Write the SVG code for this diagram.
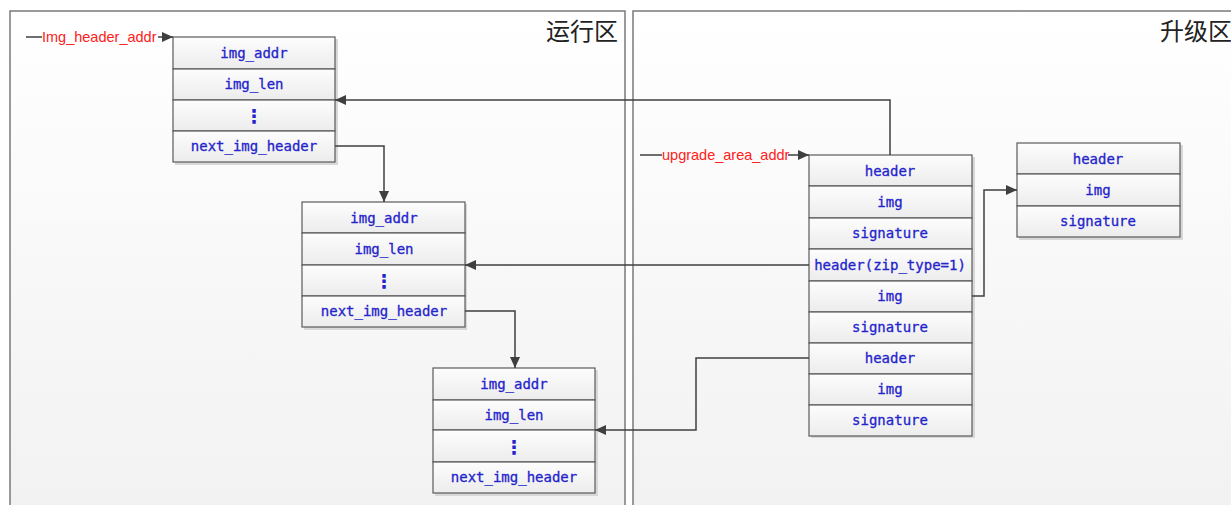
<svg xmlns="http://www.w3.org/2000/svg" width="1231" height="505" viewBox="0 0 1231 505">
<defs>
<linearGradient id="panelBg" x1="0" y1="0" x2="0" y2="1">
<stop offset="0" stop-color="#ffffff"/>
<stop offset="1" stop-color="#f1f1f1"/>
</linearGradient>
<linearGradient id="cellBg" x1="0" y1="0" x2="0" y2="1">
<stop offset="0" stop-color="#fdfdfd"/>
<stop offset="1" stop-color="#ececec"/>
</linearGradient>
<marker id="arr" markerUnits="userSpaceOnUse" markerWidth="12" markerHeight="10" refX="11" refY="5" orient="auto">
<path d="M0,0 L11,5 L0,10 Z" fill="#3f3f3f"/>
</marker>
</defs>
<style>
.panel{fill:url(#panelBg);stroke:#7a7a7a;stroke-width:1.5}
.zone{font-family:"Noto Sans CJK SC","Noto Sans",sans-serif;font-size:24px;fill:#222}
.shadow{fill:#d8d8d8}
.cell{fill:url(#cellBg);stroke:#5a5a5a;stroke-width:1.2}
.t{font-family:"DejaVu Sans Mono","Liberation Mono",monospace;font-size:14px;fill:#2424cc;stroke:#2424cc;stroke-width:0.3;text-anchor:middle}
.dots{font-family:"DejaVu Sans","Noto Sans",sans-serif;font-size:19px;font-weight:bold;fill:#2424cc;text-anchor:middle}
.red{font-family:"Liberation Sans",Arial,sans-serif;font-size:14.5px;fill:#ff2020}
.conn{fill:none;stroke:#3f3f3f;stroke-width:1.5}
</style>

<rect class="panel" x="10" y="11" width="615" height="520"/>
<rect class="panel" x="633" y="11" width="620" height="520"/>
<text class="zone" x="546" y="40">运行区</text>
<text class="zone" x="1160" y="40">升级区</text>

<g id="node-run1">
<rect class="shadow" x="175" y="39" width="163" height="126"/>
<rect class="cell" x="173" y="37" width="162" height="32"/>
<rect class="cell" x="173" y="69" width="162" height="31"/>
<rect class="cell" x="173" y="100" width="162" height="31"/>
<rect class="cell" x="173" y="131" width="162" height="31"/>
<text class="t" x="254" y="58">img_addr</text>
<text class="t" x="254" y="89">img_len</text>
<text class="dots" x="254" y="123">⋮</text>
<text class="t" x="254" y="151">next_img_header</text>
</g>

<g id="node-run2">
<rect class="shadow" x="304" y="204" width="163" height="126"/>
<rect class="cell" x="302" y="202" width="163" height="31"/>
<rect class="cell" x="302" y="233" width="163" height="32"/>
<rect class="cell" x="302" y="265" width="163" height="31"/>
<rect class="cell" x="302" y="296" width="163" height="31"/>
<text class="t" x="384" y="223">img_addr</text>
<text class="t" x="384" y="254">img_len</text>
<text class="dots" x="384" y="288">⋮</text>
<text class="t" x="384" y="316">next_img_header</text>
</g>

<g id="node-run3">
<rect class="shadow" x="435" y="370" width="163" height="126"/>
<rect class="cell" x="433" y="368" width="162" height="32"/>
<rect class="cell" x="433" y="400" width="162" height="30"/>
<rect class="cell" x="433" y="430" width="162" height="32"/>
<rect class="cell" x="433" y="462" width="162" height="31"/>
<text class="t" x="514" y="389">img_addr</text>
<text class="t" x="514" y="420">img_len</text>
<text class="dots" x="514" y="454">⋮</text>
<text class="t" x="514" y="482">next_img_header</text>
</g>

<g id="node-upgrade">
<rect class="shadow" x="811" y="157" width="164" height="281"/>
<rect class="cell" x="809" y="155" width="163" height="31"/>
<rect class="cell" x="809" y="186" width="163" height="32"/>
<rect class="cell" x="809" y="218" width="163" height="31"/>
<rect class="cell" x="809" y="249" width="163" height="32"/>
<rect class="cell" x="809" y="281" width="163" height="31"/>
<rect class="cell" x="809" y="312" width="163" height="31"/>
<rect class="cell" x="809" y="343" width="163" height="31"/>
<rect class="cell" x="809" y="374" width="163" height="31"/>
<rect class="cell" x="809" y="405" width="163" height="31"/>
<text class="t" x="890" y="176">header</text>
<text class="t" x="890" y="207">img</text>
<text class="t" x="890" y="238">signature</text>
<text class="t" x="890" y="270">header(zip_type=1)</text>
<text class="t" x="890" y="301">img</text>
<text class="t" x="890" y="332">signature</text>
<text class="t" x="890" y="363">header</text>
<text class="t" x="890" y="394">img</text>
<text class="t" x="890" y="425">signature</text>
</g>

<g id="node-unzipped">
<rect class="shadow" x="1019" y="145" width="164" height="95"/>
<rect class="cell" x="1017" y="143" width="163" height="31"/>
<rect class="cell" x="1017" y="174" width="163" height="32"/>
<rect class="cell" x="1017" y="206" width="163" height="31"/>
<text class="t" x="1098" y="164">header</text>
<text class="t" x="1098" y="195">img</text>
<text class="t" x="1098" y="226">signature</text>
</g>

<g id="connectors">
<path class="conn" d="M26,37 H42"/>
<text class="red" x="42" y="42">Img_header_addr</text>
<path class="conn" d="M158,37 H173" marker-end="url(#arr)"/>
<path class="conn" d="M640,155 H662"/>
<text class="red" x="662" y="160">upgrade_area_addr</text>
<path class="conn" d="M788,155 H809" marker-end="url(#arr)"/>
<path class="conn" d="M890,155 V100 H335" marker-end="url(#arr)"/>
<path class="conn" d="M335,146 H384 V202" marker-end="url(#arr)"/>
<path class="conn" d="M809,265 H465" marker-end="url(#arr)"/>
<path class="conn" d="M465,311 H515 V368" marker-end="url(#arr)"/>
<path class="conn" d="M972,296 H984 V190 H1017" marker-end="url(#arr)"/>
<path class="conn" d="M809,358 H696 V430 H595" marker-end="url(#arr)"/>
</g>
</svg>
